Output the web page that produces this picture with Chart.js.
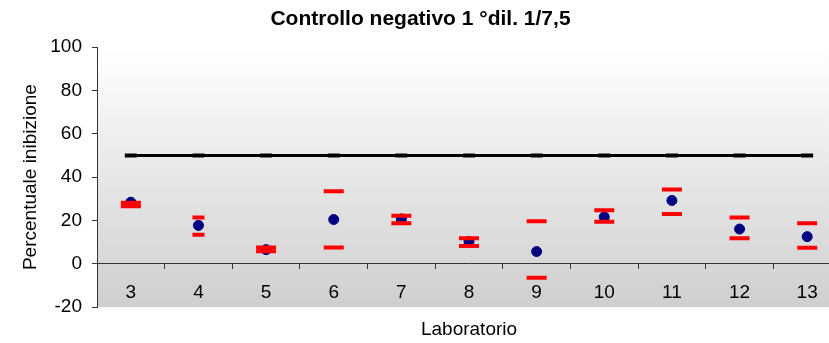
<!DOCTYPE html>
<html>
<head>
<meta charset="utf-8">
<script src="https://cdn.jsdelivr.net/npm/chart.js@4"></script>
<style>
  body { margin: 0; background: #fff; overflow: hidden; }
  #wrap { width: 864px; height: 343px; }
</style>
</head>
<body>
<div id="wrap"><canvas id="grafico" width="864" height="343"></canvas></div>
<script>
// dati
var laboratori = ['3', '4', '5', '6', '7', '8', '9', '10', '11', '12', '13'];
var media = [28.4, 17.7, 6.5, 20.4, 20.7, 10.2, 5.6, 21.6, 29.2, 16.0, 12.5];
var limiteSup = [28.1, 21.3, 7.5, 33.5, 22.2, 11.7, 19.6, 24.7, 34.3, 21.3, 18.7];
var limiteInf = [26.5, 13.4, 5.7, 7.5, 18.7, 8.2, -6.5, 19.4, 23.0, 11.7, 7.4];
var soglia = [50, 50, 50, 50, 50, 50, 50, 50, 50, 50, 50];
var yTicks = [-20, 0, 20, 40, 60, 80, 100];

var FONT = 'Liberation Sans, Arial, sans-serif';

// sfondo sfumato dell'area del grafico
var sfondo = {
  id: 'sfondo',
  beforeDraw: function (chart) {
    var a = chart.chartArea;
    var c = chart.ctx;
    var g = c.createLinearGradient(0, a.top, 0, a.bottom);
    g.addColorStop(0, '#ffffff');
    g.addColorStop(1, '#cfcfcf');
    c.save();
    c.fillStyle = g;
    c.fillRect(a.left, a.top, a.right - a.left, a.bottom - a.top);
    c.restore();
  }
};

function trattino(ctx) {
  return ctx.dataIndex === 1 ? 6 : 10;
}

var ctx = document.getElementById('grafico').getContext('2d');
var chart = new Chart(ctx, {
  type: 'line',
  data: {
    labels: laboratori,
    datasets: [{
      data: limiteSup,
      showLine: false,
      pointStyle: 'line',
      pointRadius: trattino,
      pointBorderWidth: 4,
      pointBorderColor: '#ff0000',
      pointBackgroundColor: '#ff0000'
    }, {
      data: limiteInf,
      showLine: false,
      pointStyle: 'line',
      pointRadius: trattino,
      pointBorderWidth: 4,
      pointBorderColor: '#ff0000',
      pointBackgroundColor: '#ff0000'
    }, {
      data: media,
      showLine: false,
      pointStyle: 'circle',
      pointRadius: 5,
      pointBorderWidth: 1,
      pointBorderColor: '#000080',
      pointBackgroundColor: '#000080'
    }, {
      data: soglia,
      borderColor: '#000000',
      borderWidth: 3,
      pointStyle: 'line',
      pointRadius: 6,
      pointBorderWidth: 4,
      pointBorderColor: '#000000',
      pointBackgroundColor: '#000000'
    }]
  },
  options: {
    responsive: false,
    animation: false,
    layout: { padding: { left: 0, right: 23, bottom: 36 } },
    plugins: {
      legend: { display: false },
      tooltip: { enabled: false },
      title: {
        display: true,
        text: 'Controllo negativo 1 °dil. 1/7,5',
        color: '#000',
        font: { size: 21, weight: 'bold', family: FONT },
        padding: { top: 7, bottom: 15 }
      }
    },
    scales: {
      x: {
        type: 'category',
        offset: true,
        position: { y: 0 },
        border: { color: '#333', width: 1 },
        grid: { display: true, offset: true, drawOnChartArea: false, drawTicks: true, tickLength: 5, color: '#333' },
        ticks: { color: '#000', padding: 13, font: { size: 19, family: FONT }, maxRotation: 0 },
        title: {
          display: true,
          text: 'Laboratorio',
          color: '#000',
          font: { size: 19, family: FONT },
          padding: { top: 1, bottom: 0 }
        }
      },
      y: {
        min: -20,
        max: 100,
        afterFit: function (s) { s.width = 97; },
        afterBuildTicks: function (s) { s.ticks = yTicks.map(function (v) { return { value: v }; }); },
        border: { color: '#333', width: 1 },
        grid: { drawOnChartArea: false, drawTicks: true, tickLength: 5, color: '#333' },
        ticks: { color: '#000', padding: 10, font: { size: 19, family: FONT } },
        title: {
          display: true,
          text: 'Percentuale inibizione',
          color: '#000',
          font: { size: 19, family: FONT },
          padding: { top: 19, bottom: 0 }
        }
      }
    }
  },
  plugins: [sfondo]
});
</script>
</body>
</html>
